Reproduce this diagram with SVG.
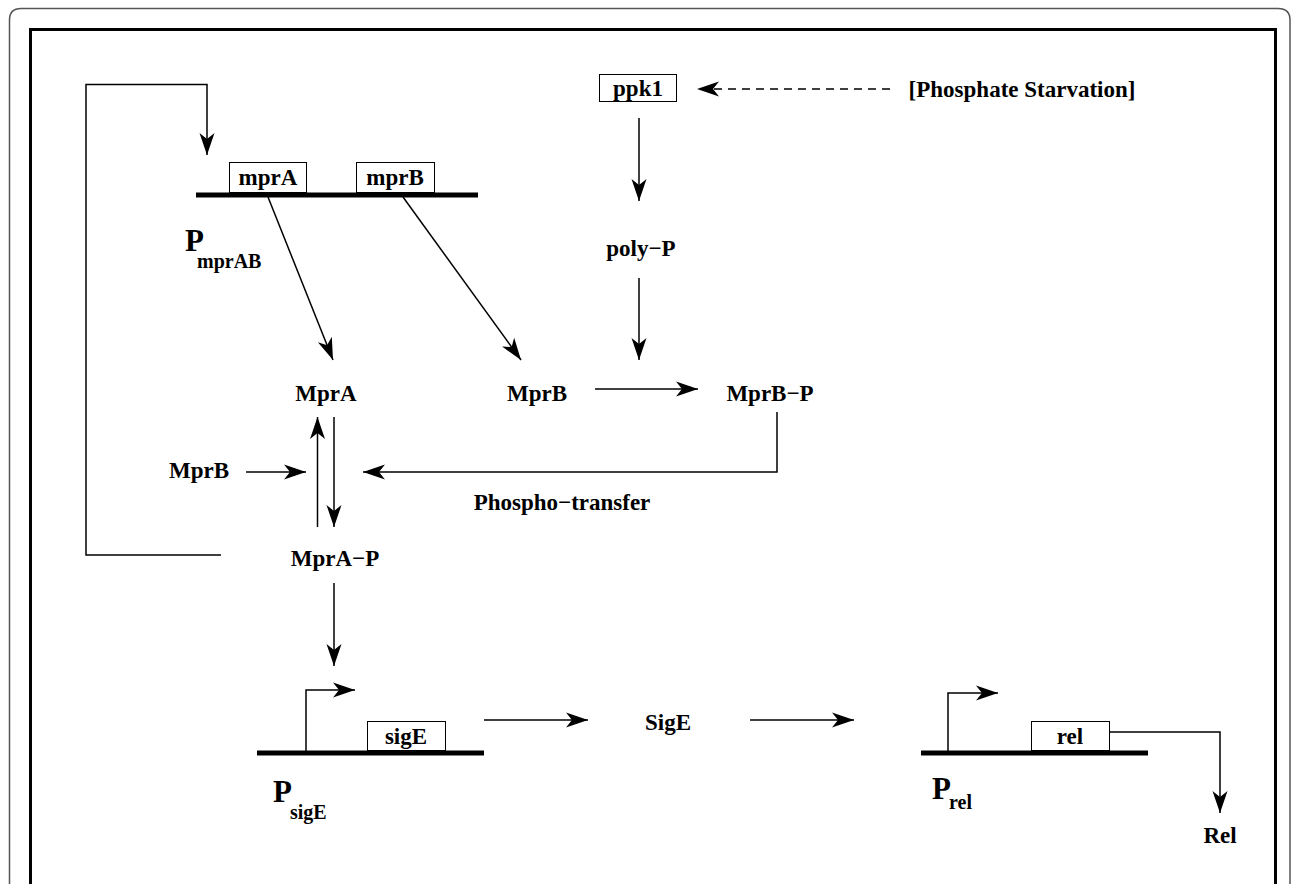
<svg xmlns="http://www.w3.org/2000/svg" width="1292" height="884" viewBox="0 0 1292 884">
<defs>
<style>
.t{font-family:"Liberation Serif","Times New Roman",serif;font-weight:bold;font-size:23px;fill:#000;text-anchor:middle}
.big{font-family:"Liberation Serif","Times New Roman",serif;font-weight:bold;font-size:31px;fill:#000}
.sub{font-family:"Liberation Serif","Times New Roman",serif;font-weight:bold;font-size:20px;fill:#000}
.c{fill:none;stroke:#000;stroke-width:1.5}
.bar{fill:none;stroke:#000;stroke-width:5}
.box{fill:#fff;stroke:#000;stroke-width:1}
</style>
<marker id="ah" viewBox="-24 -9 26 18" markerWidth="26" markerHeight="18" refX="0" refY="0" orient="auto" markerUnits="userSpaceOnUse">
<path d="M0,0 L-22,-7.5 L-16,0 L-22,7.5 Z" fill="#000"/>
</marker>
</defs>
<rect width="1292" height="884" fill="#fff"/>
<g id="frame">
<path d="M9.5,890 L9.5,20 Q9.5,8.5 21,8.5 L1278,8.5 Q1290,8.5 1290,20 L1290,890" fill="none" stroke="#555" stroke-width="1.5"/>
<path d="M30.5,890 L30.5,29.5 L1275.5,29.5 L1275.5,890" fill="none" stroke="#000" stroke-width="3"/>
</g>
<g id="connectors">
<path class="c" d="M221,555 L86,555 L86,84.5 L207,84.5 L207,155" marker-end="url(#ah)"/>
<path class="c" d="M268,197 L333,360" marker-end="url(#ah)"/>
<path class="c" d="M403,197 L521,360" marker-end="url(#ah)"/>
<path class="c" d="M890,89 L697,89" stroke-dasharray="8,6" marker-end="url(#ah)"/>
<path class="c" d="M639,118 L639,201" marker-end="url(#ah)"/>
<path class="c" d="M639,278 L639,360" marker-end="url(#ah)"/>
<path class="c" d="M595,389 L698,389" marker-end="url(#ah)"/>
<path class="c" d="M777,412 L777,472 L363,472" marker-end="url(#ah)"/>
<path class="c" d="M246,472 L306,472" marker-end="url(#ah)"/>
<path class="c" d="M317.5,527 L317.5,417" marker-end="url(#ah)"/>
<path class="c" d="M334,417 L334,527" marker-end="url(#ah)"/>
<path class="c" d="M334,583 L334,666" marker-end="url(#ah)"/>
<path class="c" d="M306,752 L306,690 L355,690" marker-end="url(#ah)"/>
<path class="c" d="M484,720 L588,720" marker-end="url(#ah)"/>
<path class="c" d="M750,720 L854,720" marker-end="url(#ah)"/>
<path class="c" d="M948,752 L948,693 L998,693" marker-end="url(#ah)"/>
<path class="c" d="M1109,732 L1220,732 L1220,813" marker-end="url(#ah)"/>
</g>
<g id="mprAB-operon">
<line class="bar" x1="196" y1="195" x2="478" y2="195"/>
<rect class="box" x="229.5" y="162.5" width="77" height="30"/>
<text class="t" x="268" y="185">mprA</text>
<rect class="box" x="356.5" y="162.5" width="78" height="30"/>
<text class="t" x="395" y="185">mprB</text>
<text class="big" x="185" y="251">P</text>
<text class="sub" x="197" y="268">mprAB</text>
</g>
<g id="ppk1">
<rect class="box" x="599.5" y="74.5" width="77" height="27"/>
<text class="t" x="638" y="96">ppk1</text>
</g>
<g id="starvation"><text class="t" x="1022" y="97">[Phosphate Starvation]</text></g>
<g id="polyP"><text class="t" x="641" y="256">poly−P</text></g>
<g id="MprA"><text class="t" x="326" y="401">MprA</text></g>
<g id="MprB"><text class="t" x="537" y="401">MprB</text></g>
<g id="MprB-P"><text class="t" x="770" y="401">MprB−P</text></g>
<g id="MprB-left"><text class="t" x="199" y="478">MprB</text></g>
<g id="phospho"><text class="t" x="562" y="510">Phospho−transfer</text></g>
<g id="MprA-P"><text class="t" x="335" y="566">MprA−P</text></g>
<g id="sigE-gene">
<line class="bar" x1="257" y1="753" x2="484" y2="753"/>
<rect class="box" x="367.5" y="721.5" width="78" height="29"/>
<text class="t" x="406" y="744">sigE</text>
<text class="big" x="273" y="802">P</text>
<text class="sub" x="290" y="819">sigE</text>
</g>
<g id="SigE"><text class="t" x="668" y="730">SigE</text></g>
<g id="rel-gene">
<line class="bar" x1="921" y1="753" x2="1148" y2="753"/>
<rect class="box" x="1031.5" y="721.5" width="78" height="29"/>
<text class="t" x="1070" y="744">rel</text>
<text class="big" x="932" y="799">P</text>
<text class="sub" x="949" y="809">rel</text>
</g>
<g id="Rel"><text class="t" x="1220" y="843">Rel</text></g>
</svg>
